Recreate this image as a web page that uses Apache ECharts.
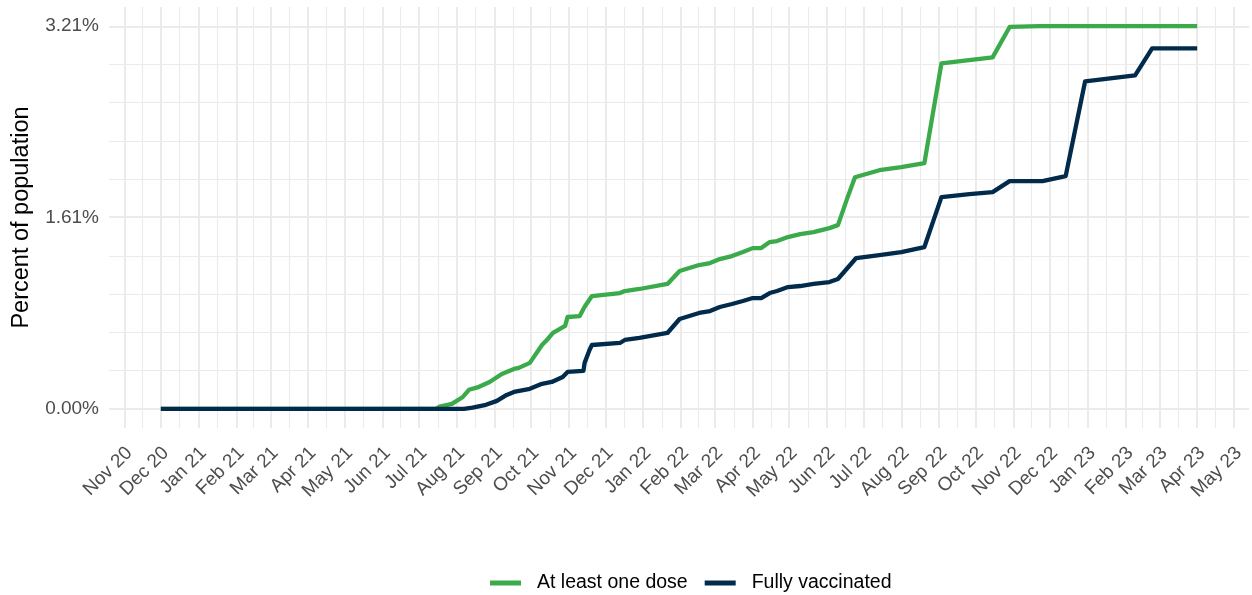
<!DOCTYPE html>
<html>
<head>
<meta charset="utf-8">
<script src="https://cdn.jsdelivr.net/npm/echarts@6/dist/echarts.min.js"></script>
<style>
html,body{margin:0;padding:0;background:#fff;}
#chart{width:1252px;height:595px;}
</style>
</head>
<body>
<div id="chart"></div>
<script>
// ---- data ----
const tickDates = ['2020-11-01','2020-12-01','2021-01-01','2021-02-01','2021-03-01','2021-04-01','2021-05-01','2021-06-01','2021-07-01','2021-08-01','2021-09-01','2021-10-01','2021-11-01','2021-12-01','2022-01-01','2022-02-01','2022-03-01','2022-04-01','2022-05-01','2022-06-01','2022-07-01','2022-08-01','2022-09-01','2022-10-01','2022-11-01','2022-12-01','2023-01-01','2023-02-01','2023-03-01','2023-04-01','2023-05-01'];
const tickLabels = ['Nov 20','Dec 20','Jan 21','Feb 21','Mar 21','Apr 21','May 21','Jun 21','Jul 21','Aug 21','Sep 21','Oct 21','Nov 21','Dec 21','Jan 22','Feb 22','Mar 22','Apr 22','May 22','Jun 22','Jul 22','Aug 22','Sep 22','Oct 22','Nov 22','Dec 22','Jan 23','Feb 23','Mar 23','Apr 23','May 23'];

const seriesNames = ['At least one dose','Fully vaccinated'];

const greenDates = ['2020-12-01','2021-07-15','2021-07-18','2021-07-28','2021-08-06','2021-08-11','2021-08-18','2021-08-28','2021-09-07','2021-09-17','2021-09-21','2021-09-30','2021-10-10','2021-10-14','2021-10-19','2021-10-29','2021-10-31','2021-11-10','2021-11-13','2021-11-15','2021-11-20','2021-12-13','2021-12-17','2021-12-29','2022-01-21','2022-01-31','2022-02-16','2022-02-25','2022-03-05','2022-03-15','2022-03-24','2022-04-01','2022-04-08','2022-04-15','2022-04-21','2022-04-30','2022-05-10','2022-05-21','2022-06-03','2022-06-10','2022-06-18','2022-06-24','2022-07-14','2022-08-01','2022-08-20','2022-09-03','2022-10-15','2022-10-29','2022-11-23','2023-04-01'];
const greenValues = [0,0,0.019,0.042,0.10,0.16,0.18,0.226,0.293,0.335,0.344,0.386,0.536,0.578,0.637,0.696,0.771,0.779,0.838,0.872,0.947,0.972,0.989,1.006,1.048,1.157,1.207,1.224,1.257,1.282,1.316,1.349,1.349,1.40,1.408,1.442,1.467,1.483,1.517,1.542,1.777,1.944,2.003,2.028,2.062,2.90,2.95,3.205,3.212,3.212];

const navyDates = ['2020-12-01','2021-08-07','2021-08-14','2021-08-25','2021-09-03','2021-09-11','2021-09-17','2021-09-30','2021-10-10','2021-10-18','2021-10-27','2021-10-31','2021-11-13','2021-11-14','2021-11-18','2021-11-20','2021-12-13','2021-12-17','2021-12-29','2022-01-21','2022-01-31','2022-02-16','2022-02-25','2022-03-05','2022-03-15','2022-03-24','2022-04-01','2022-04-08','2022-04-15','2022-04-21','2022-04-30','2022-05-10','2022-05-21','2022-06-03','2022-06-10','2022-06-25','2022-07-14','2022-08-01','2022-08-20','2022-09-03','2022-09-26','2022-10-15','2022-10-29','2022-11-25','2022-12-14','2022-12-30','2023-02-09','2023-02-23','2023-04-01'];
const navyValues = [0,0,0.01,0.034,0.067,0.117,0.142,0.168,0.21,0.226,0.268,0.31,0.318,0.386,0.494,0.536,0.553,0.578,0.595,0.637,0.754,0.805,0.821,0.855,0.88,0.905,0.93,0.93,0.972,0.989,1.022,1.031,1.048,1.064,1.09,1.266,1.291,1.316,1.358,1.777,1.802,1.819,1.911,1.911,1.953,2.749,2.799,3.026,3.026];

const yLabelValues = [0, 1.606, 3.212];

// ---- build ----
const ts = d => Date.parse(d);
const allDates = greenDates.concat(navyDates).map(ts);
const xLo = Math.min(...allDates), xHi = Math.max(...allDates);
const xPad = (xHi - xLo) * 0.05;
const yTop = Math.max(...greenValues, ...navyValues);
const yPad = yTop * 0.05;

const tickTs = tickDates.map(ts);
const minorTs = [];
for (let i = 0; i < tickTs.length - 1; i++) minorTs.push((tickTs[i] + tickTs[i + 1]) / 2);
const yStep = yTop / 10;
const yMinor = [];
for (let k = 1; k < 10; k++) if (k !== 5) yMinor.push(k * yStep);

const gridColor = '#EBEBEB';
const gridLines = []
  .concat(minorTs.map(v => ({ xAxis: v, lineStyle: { color: gridColor, width: 1.1, type: 'solid' } })))
  .concat(tickTs.map(v => ({ xAxis: v, lineStyle: { color: gridColor, width: 2, type: 'solid' } })))
  .concat(yMinor.map(v => ({ yAxis: v, lineStyle: { color: gridColor, width: 1.1, type: 'solid' } })))
  .concat(yLabelValues.map(v => ({ yAxis: v, lineStyle: { color: gridColor, width: 2, type: 'solid' } })));

const FONT = '"Liberation Sans", Arial, Helvetica, sans-serif';
const chart = echarts.init(document.getElementById('chart'), null, { renderer: 'canvas' });
chart.setOption({
  animation: false,
  backgroundColor: '#ffffff',
  textStyle: { fontFamily: FONT },
  grid: { left: 109, right: 3, top: 7, bottom: 167, containLabel: false },
  legend: {
    top: 568,
    left: 485,
    icon: 'rect',
    itemWidth: 31,
    itemHeight: 5,
    itemGap: 17,
    textStyle: { fontFamily: FONT, fontSize: 19.5, color: '#000', padding: [0, 0, 0, 11] },
    data: seriesNames
  },
  xAxis: {
    type: 'value',
    min: xLo - xPad,
    max: xHi + xPad,
    axisLine: { show: false },
    axisTick: { show: false },
    splitLine: { show: false },
    axisLabel: {
      customValues: tickTs,
      rotate: 45,
      margin: 27,
      padding: [0, -7, 0, 0],
      fontFamily: FONT,
      fontSize: 19,
      color: '#4D4D4D',
      formatter: v => { const i = tickTs.indexOf(v); return i >= 0 ? tickLabels[i] : ''; }
    }
  },
  yAxis: {
    type: 'value',
    min: -yPad,
    max: yTop + yPad,
    name: 'Percent of population',
    nameLocation: 'middle',
    nameGap: 75,
    nameTextStyle: { fontFamily: FONT, fontSize: 23.5, color: '#000' },
    axisLine: { show: false },
    axisTick: { show: false },
    splitLine: { show: false },
    axisLabel: {
      customValues: yLabelValues,
      margin: 10,
      fontFamily: FONT,
      fontSize: 19,
      color: '#4D4D4D',
      formatter: v => v.toFixed(2) + '%'
    }
  },
  series: [
    {
      type: 'line', name: '_grid', data: [], z: 0, silent: true,
      markLine: { z: 0, silent: true, symbol: ['none', 'none'], label: { show: false }, animation: false, data: gridLines }
    },
    {
      type: 'line', name: seriesNames[0], z: 3,
      data: greenDates.map((d, i) => [ts(d), greenValues[i]]),
      showSymbol: false, symbol: 'none',
      lineStyle: { color: '#3AAA4A', width: 4.3, join: 'round' },
      itemStyle: { color: '#3AAA4A' }
    },
    {
      type: 'line', name: seriesNames[1], z: 4,
      data: navyDates.map((d, i) => [ts(d), navyValues[i]]),
      showSymbol: false, symbol: 'none',
      lineStyle: { color: '#012A4B', width: 4.3, join: 'round' },
      itemStyle: { color: '#012A4B' }
    }
  ]
});
</script>
</body>
</html>
